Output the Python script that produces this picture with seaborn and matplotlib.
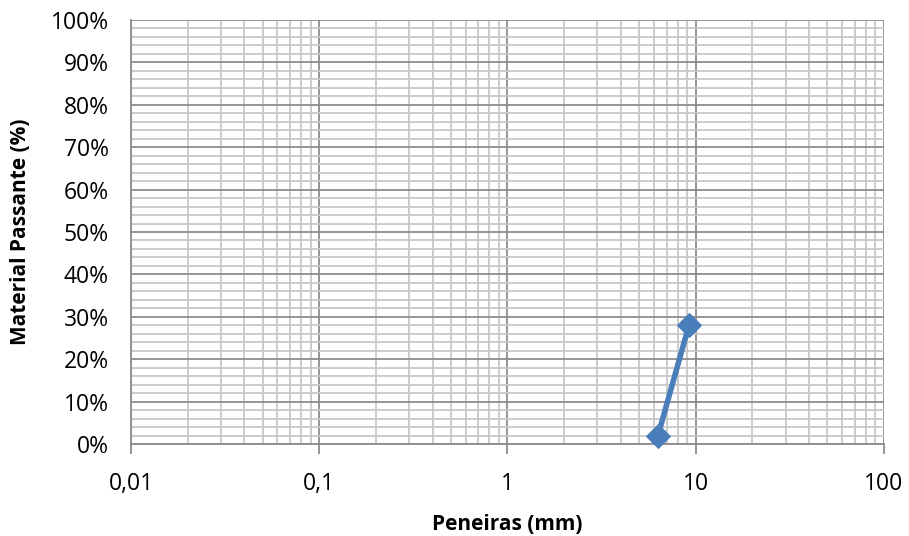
import matplotlib
matplotlib.use("Agg")
import matplotlib.pyplot as plt
import matplotlib.ticker as mticker
import seaborn as sns
import pandas as pd
import numpy as np

# Curva granulométrica
peneiras_mm = [6.3, 9.2]
passante = [0.02, 0.28]
x_ticks = [0.01, 0.1, 1, 10, 100]
x_labels = ["0,01", "0,1", "1", "10", "100"]

sns.set_theme(style="white")
plt.rcParams["font.family"] = ["Open Sans", "DejaVu Sans"]

df = pd.DataFrame({"Peneiras (mm)": peneiras_mm, "Passante": passante})

fig = plt.figure(figsize=(9.09, 5.36), dpi=100)
ax = fig.add_axes([0.1441, 0.1716, 0.8284, 0.7911])

ax.set_xscale("log")
ax.set_xlim(0.01, 100)
ax.set_ylim(0, 1)

# grade: maior e menor
ax.xaxis.set_major_locator(mticker.FixedLocator(x_ticks))
ax.xaxis.set_major_formatter(mticker.FixedFormatter(x_labels))
ax.xaxis.set_minor_locator(mticker.LogLocator(base=10, subs=np.arange(2, 10)))
ax.xaxis.set_minor_formatter(mticker.NullFormatter())
ax.yaxis.set_major_locator(mticker.MultipleLocator(0.1))
ax.yaxis.set_minor_locator(mticker.MultipleLocator(0.02))
ax.yaxis.set_major_formatter(mticker.FuncFormatter(lambda v, p: f"{v*100:.0f}%"))

ax.grid(which="minor", color="#c8c8c8", linewidth=1.3)
ax.grid(which="major", color="#8c8c8c", linewidth=1.3)
ax.set_axisbelow(True)

sns.lineplot(data=df, x="Peneiras (mm)", y="Passante", ax=ax, color="#4a7ebb",
             linewidth=4, marker="D", markersize=12, markeredgecolor="#4a7ebb",
             zorder=5, clip_on=False)

for s in ["top", "right"]:
    ax.spines[s].set_visible(False)
for s in ["left", "bottom"]:
    ax.spines[s].set_color("#8c8c8c")
    ax.spines[s].set_linewidth(1.3)

ax.tick_params(axis="x", which="major", length=7, width=1.3, color="#8c8c8c",
               labelsize=16.5, pad=13, bottom=True, labelcolor="#000000")
ax.tick_params(axis="x", which="minor", length=0)
ax.tick_params(axis="y", which="both", length=0, labelsize=16.5, pad=16,
               labelcolor="#000000")

ax.set_xlabel("Peneiras (mm)", fontsize=15, fontweight="bold", labelpad=13,
              color="#000000")
ax.set_ylabel("Material Passante (%)", fontsize=15, fontweight="bold", labelpad=14,
              color="#000000")

fig.savefig("out.png", dpi=100)
